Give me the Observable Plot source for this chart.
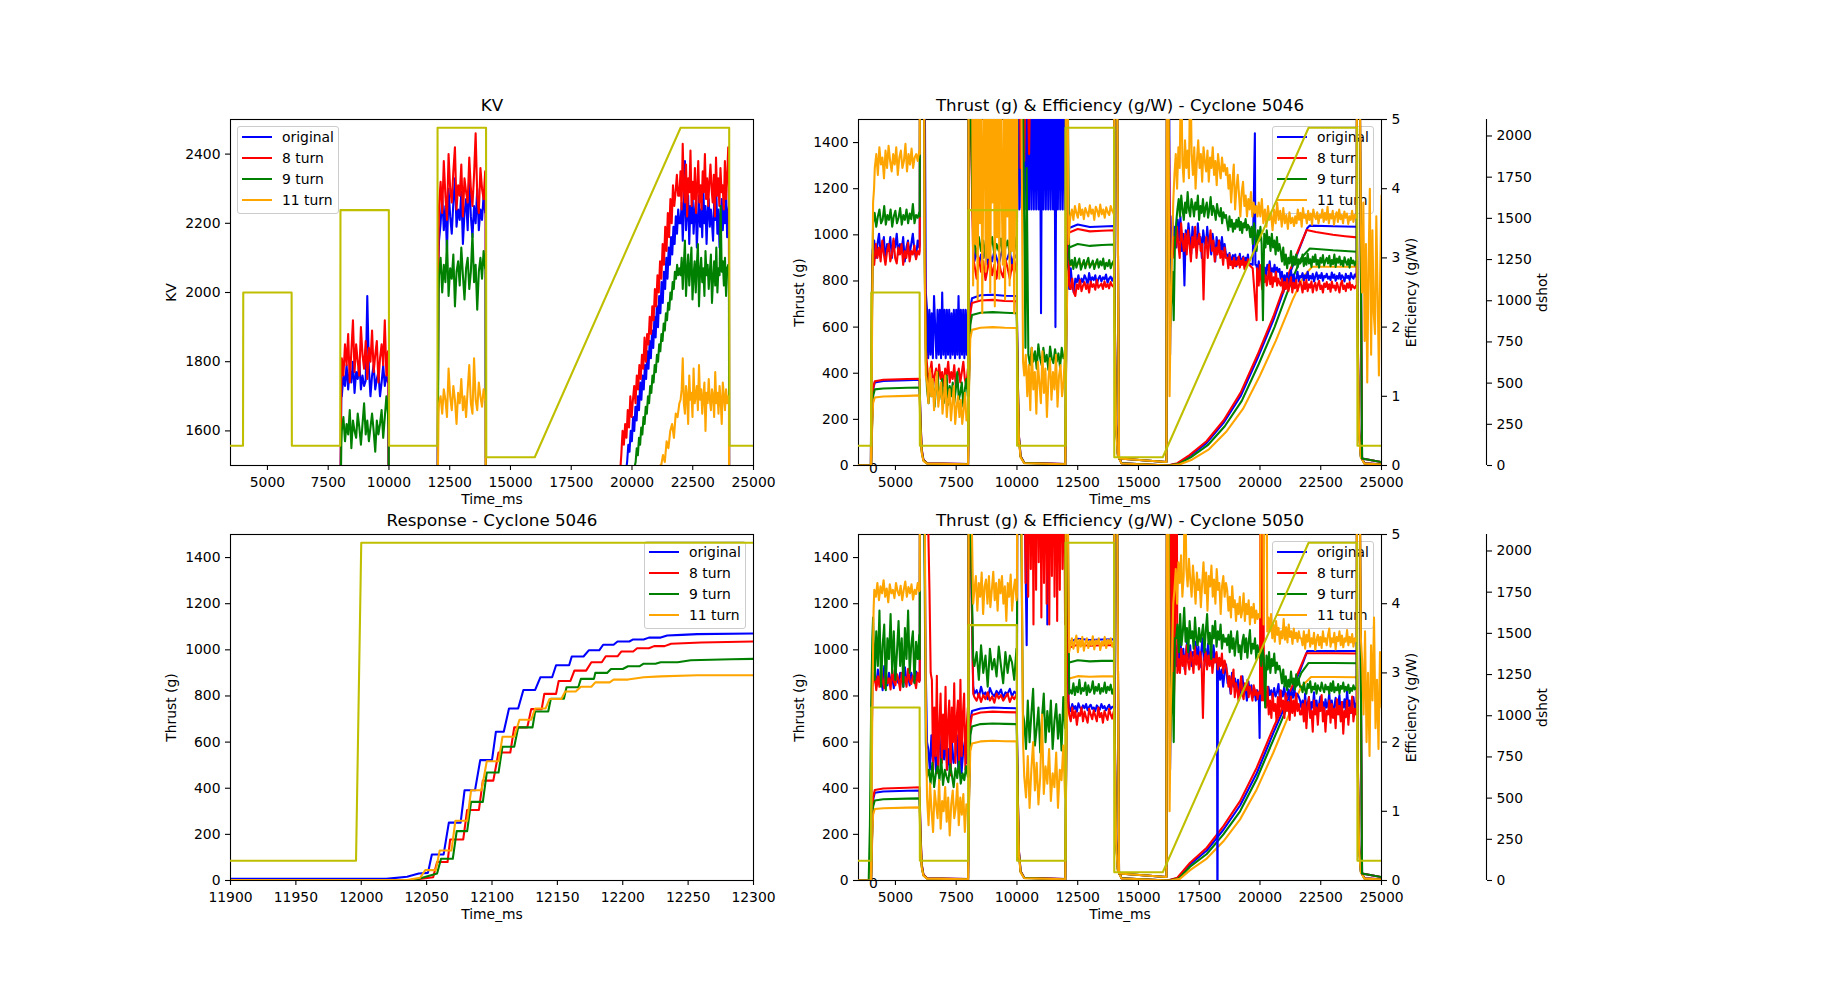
<!DOCTYPE html>
<html><head><meta charset="utf-8">
<script src="https://cdn.jsdelivr.net/npm/d3@7"></script>
<script src="https://cdn.jsdelivr.net/npm/@observablehq/plot@0.6"></script>
<style>
body{margin:0;background:#fff;}
#fig{position:relative;width:1842px;height:989px;overflow:hidden;background:#fff;font-family:"DejaVu Sans";}
</style></head><body><div id="fig"></div>
<script>
// ---------- labels / ticks ----------
const names = ["original", "8 turn", "9 turn", "11 turn"];
const colors = ["#0000ff", "#ff0000", "#008000", "#ffa500"];
const dshotColor = "#bfbf00";
const timeTicks = [5000, 7500, 10000, 12500, 15000, 17500, 20000, 22500, 25000];
const respTicks = [11900, 11950, 12000, 12050, 12100, 12150, 12200, 12250, 12300];
const kvTicks = [1600, 1800, 2000, 2200, 2400];
const thrustTicks = [0, 200, 400, 600, 800, 1000, 1200, 1400];
const effTicks = [0, 1, 2, 3, 4, 5];
const dshotTicks = [0, 250, 500, 750, 1000, 1250, 1500, 1750, 2000];

// ---------- dshot command ----------
const dshot = [[3480,120],[3995,120],[4005,1050],[5995,1050],[6005,120],[7995,120],[8005,1550],[9995,1550],[10005,120],[11996,120],[12000,2050],[13995,2050],[14005,50],[16000,50],[22000,2050],[24000,2050],[24010,120],[25000,120]];

// ---------- KV (entries: [t,v] or [t0,t1,[values...]]) ----------
const kvBlue = [[3480,0],[7990,0],[8010,1480],[8040,1700],
 [8060,9960,[1700,1760,1730,1790,1720,1780,1740,1800,1710,1770,1750,1800,1720,1760,1730,1745,1990,1780,1700,1760,1790,1720,1750,1770,1700,1740,1790,1730,1760,1740]],
 [9980,1740],[10000,0],[11990,0],[12010,1600],[12040,2100],
 [12060,13960,[2150,2200,2280,2180,2250,2120,2300,2220,2170,2260,2330,2190,2240,2210,2290,2140,2230,2270,2180,2340,2220,2160,2250,2200,2300,2180,2240,2210,2280,2230]],
 [13980,2230],[14000,0],[19750,0],[19780,1500],
 [19800,21950,[1510,1560,1540,1600,1570,1640,1600,1670,1630,1700,1660,1740,1690,1760,1720,1790,1750,1830,1780,1860,1810,1890,1840,1930,1870,1960,1900,1990,1940,2030,1970,2060,2010,2100,2040,2130,2080,2160,2110,2190,2140,2220,2170,2240,2200]],
 [22000,23960,[2200,2260,2150,2240,2380,2180,2230,2280,2140,2250,2200,2290,2170,2230,2260,2130,2210,2280,2190,2240,2160,2300,2200,2250,2140,2230,2270,2190,2240,2200,2150,2260,2210,2290,2170,2240,2130,2220,2270,2180,2250,2200,2300,2160,2230]],
 [23990,2250],[24010,0],[25000,0]];
const kvRed = [[3480,0],[7990,0],[8010,1480],[8040,1780],
 [8060,9960,[1810,1760,1850,1790,1880,1740,1830,1920,1770,1850,1800,1760,1900,1820,1780,1860,1750,1840,1800,1890,1770,1820,1860,1740,1810,1850,1790,1920,1760,1830]],
 [9980,1780],[10000,0],[11990,0],[12010,1600],[12040,2150],
 [12060,13960,[2250,2320,2230,2380,2280,2210,2400,2300,2260,2350,2420,2240,2310,2280,2370,2220,2330,2290,2260,2390,2300,2250,2340,2460,2280,2230,2360,2300,2270,2350]],
 [13980,2300],[14000,0],[19500,0],[19530,1500],
 [19560,21900,[1530,1600,1560,1620,1580,1660,1610,1700,1640,1690,1730,1680,1760,1720,1790,1750,1820,1780,1870,1800,1880,1850,1930,1880,1960,1920,2010,1960,2050,2000,2090,2040,2140,2080,2190,2120,2230,2160,2270,2200,2310,2250,2290,2340,2280]],
 [21950,23960,[2280,2350,2240,2430,2300,2260,2370,2220,2330,2290,2410,2250,2320,2270,2360,2230,2300,2380,2260,2310,2240,2350,2290,2400,2270,2330,2250,2320,2370,2300,2260,2340,2220,2390,2280,2330,2250,2360,2290,2310,2240,2380,2270,2330,2420]],
 [23990,2380],[24010,0],[25000,0]];
const kvGreen = [[3480,0],[7990,0],[8010,1400],[8040,1560],
 [8060,9960,[1600,1640,1570,1620,1590,1660,1550,1630,1600,1580,1650,1610,1560,1620,1680,1590,1630,1570,1610,1650,1600,1540,1630,1590,1620,1660,1580,1640,1700,1650]],
 [9990,1600],[10010,0],[11990,0],[12010,1500],[12040,2000],
 [12060,13960,[2050,2100,2000,2080,2030,2150,1990,2070,2040,2110,1960,2060,2090,2020,2130,2050,1980,2070,2100,2010,2060,2170,2030,2080,1950,2060,2100,2040,2120,2070]],
 [13980,2070],[14000,0],[20100,0],[20120,1500],
 [20150,21950,[1510,1550,1530,1580,1560,1610,1590,1640,1620,1670,1650,1700,1680,1730,1710,1760,1740,1790,1770,1820,1800,1850,1830,1880,1860,1910,1890,1940,1920,1970,1950,2000,1980,2030,2010,2060,2040,2080,2050,2070]],
 [22000,23960,[2050,2100,2010,2080,2150,1990,2060,2110,2020,2070,2130,1980,2050,2090,2000,2080,2140,1960,2060,2100,2030,2070,1990,2120,2050,2080,2010,2060,2110,1970,2040,2090,2020,2130,2000,2070,2050,2250,2060,2090,2020,2100,1990,2070,2080]],
 [23990,2080],[24010,0],[25000,0]];
const kvOrange = [[3480,0],[11990,0],[12010,1450],[12040,1650],
 [12060,13960,[1680,1700,1650,1720,1690,1640,1780,1700,1660,1730,1690,1620,1710,1680,1750,1660,1700,1640,1720,1790,1680,1650,1810,1690,1660,1740,1700,1670,1720,1690]],
 [13980,1690],[14000,0],[21120,0],[21150,1500],
 [21200,21950,[1500,1530,1510,1570,1550,1600,1620,1580,1650,1640,1680]],
 [22000,23960,[1690,1720,1810,1680,1650,1730,1700,1620,1760,1690,1710,1640,1780,1680,1700,1730,1660,1790,1690,1720,1650,1700,1740,1600,1710,1680,1750,1690,1660,1720,1700,1640,1770,1680,1710,1650,1730,1690,1620,1740,1700,1660,1720,1680,1700]],
 [23990,1700],[24010,0],[25000,0]];

// ---------- Response (Cyclone 5046 step at 12000 ms) ----------
const respBlue = [[11900,7],[12019,7],[12035,16],[12044,30],[12051,33],[12054,113],[12063,113],[12067,251],[12076,251],[12079,391],[12087,391],[12091,522],[12100,522],[12103,645],[12109,645],[12113,746],[12120,746],[12124,826],[12133,826],[12137,881],[12146,881],[12149,933],[12159,933],[12161,971],[12170,971],[12174,998],[12182,998],[12185,1022],[12193,1022],[12196,1036],[12205,1036],[12208,1045],[12216,1045],[12220,1053],[12229,1053],[12234,1062],[12245,1065],[12257,1068],[12300,1071]];
const respRed = [[11900,2],[12037,2],[12046,8],[12055,14],[12058,80],[12066,80],[12068,178],[12078,178],[12081,306],[12090,306],[12093,433],[12101,433],[12105,555],[12114,555],[12117,664],[12127,664],[12130,743],[12138,743],[12140,809],[12149,809],[12151,865],[12160,865],[12163,910],[12172,910],[12176,946],[12184,946],[12187,972],[12196,972],[12199,993],[12208,993],[12211,1007],[12220,1007],[12224,1016],[12232,1016],[12237,1026],[12260,1032],[12300,1036]];
const respGreen = [[11900,2],[12040,2],[12046,11],[12058,30],[12061,94],[12070,94],[12073,214],[12081,214],[12084,341],[12093,341],[12096,468],[12105,468],[12108,580],[12117,580],[12120,664],[12131,664],[12133,733],[12143,733],[12145,788],[12155,788],[12157,838],[12166,838],[12168,874],[12178,874],[12179,900],[12188,900],[12191,917],[12200,917],[12204,929],[12213,929],[12216,940],[12225,940],[12229,946],[12242,946],[12252,955],[12283,959],[12300,961]];
const respOrange = [[11900,2],[12035,2],[12045,12],[12049,45],[12057,45],[12060,130],[12069,130],[12072,259],[12081,259],[12084,391],[12092,391],[12096,517],[12105,517],[12108,623],[12117,623],[12121,697],[12130,697],[12133,746],[12141,746],[12144,787],[12153,787],[12156,819],[12164,819],[12168,840],[12176,840],[12179,859],[12190,859],[12193,871],[12204,871],[12216,881],[12229,885],[12257,890],[12300,890]];

// ---------- Thrust (g) Cyclone 5046 ----------
const c46ThrBlue = [[3480,0],[4000,2],[4040,200],[4080,330],[4150,360],[4500,366],[5500,370],[5990,372],[6030,200],[6080,70],[6150,25],[6300,10],[7990,6],[8030,400],[8080,680],[8150,725],[8500,738],[9000,740],[9500,736],[9990,735],[10030,400],[10080,130],[10150,40],[10300,12],[11990,6],[12030,600],[12080,980],[12150,1030],[12500,1045],[13000,1034],[13500,1036],[13990,1038],[14030,600],[14080,180],[14150,50],[14300,10],[16200,0],[16600,8],[17100,40],[17800,97],[18500,185],[19200,300],[19900,465],[20550,630],[21240,835],[21600,935],[21950,1030],[22050,1040],[23000,1037],[23990,1035],[24030,500],[24080,150],[24150,40],[24300,10],[25000,5]];
const c46ThrRed = [[3480,0],[4000,2],[4040,200],[4080,335],[4150,365],[4500,372],[5500,375],[5990,376],[6030,200],[6080,70],[6150,25],[6300,10],[7990,6],[8030,400],[8080,660],[8150,705],[8500,715],[9000,718],[9500,713],[9990,712],[10030,400],[10080,130],[10150,40],[10300,12],[11990,6],[12030,600],[12080,960],[12150,1010],[12500,1025],[13000,1015],[13500,1018],[13990,1020],[14030,600],[14080,180],[14150,50],[14300,10],[16200,0],[16600,10],[17100,45],[17800,105],[18500,195],[19200,315],[19900,480],[20550,646],[21240,848],[21600,940],[21920,1021],[22300,1012],[23000,1000],[23500,994],[23990,989],[24030,500],[24080,150],[24150,40],[24300,10],[25000,5]];
const c46ThrGreen = [[3480,0],[4000,2],[4040,180],[4080,300],[4150,330],[4500,334],[5500,337],[5990,338],[6030,180],[6080,60],[6150,22],[6300,9],[7990,5],[8030,380],[8080,610],[8150,652],[8500,662],[9000,665],[9500,662],[9990,660],[10030,380],[10080,120],[10150,38],[10300,11],[11990,5],[12030,580],[12080,900],[12150,945],[12500,960],[13000,952],[13500,956],[13990,958],[14030,560],[14080,170],[14150,45],[14300,10],[16250,0],[16650,7],[17150,35],[17850,88],[18550,170],[19250,280],[19950,440],[20600,600],[21300,800],[21700,900],[22050,941],[23000,933],[23990,927],[24030,450],[24080,140],[24150,38],[24300,9],[25000,4]];
const c46ThrOrange = [[3480,0],[4000,2],[4040,160],[4080,270],[4150,295],[4500,299],[5500,302],[5990,304],[6030,160],[6080,55],[6150,20],[6300,8],[7990,5],[8030,340],[8080,550],[8150,588],[8500,597],[9000,600],[9500,597],[9990,596],[10030,340],[10080,110],[10150,35],[10300,10],[11990,5],[12030,520],[12080,830],[12150,866],[12500,876],[13000,872],[13500,874],[13990,875],[14030,520],[14080,160],[14150,42],[14300,9],[16300,0],[16700,5],[17200,25],[17900,70],[18600,145],[19300,245],[20000,390],[20650,540],[21350,720],[21800,820],[22150,862],[23000,862],[23990,862],[24030,420],[24080,130],[24150,35],[24300,8],[25000,4]];

// ---------- Efficiency (g/W) Cyclone 5046 ----------
const c46EffBlue = [[3480,0],[3990,0],[4010,1.5],[4040,2.8],
 [4060,5980,[3.1,3.25,3.0,3.2,3.35,3.05,3.15,3.3,2.95,3.2,3.1,3.3,3.0,3.25,3.15,3.35,3.05,3.2,3.1,3.3,2.95,3.15,3.25,3.05,3.2,3.35,3.1,3.0,3.25,3.15]],
 [6000,3.2],[6020,8],[6100,9],[6200,6],[6250,2.5],
 [6300,7980,[2.25,1.55,2.25,1.6,2.2,1.55,2.45,2.0,1.55,2.25,1.6,2.25,1.55,2.5,1.6,2.25,1.55,2.25,1.6,2.25,1.55,2.2,1.6,2.25,1.55,2.25,1.6,2.45,1.55,2.25,1.6,2.25,1.55,2.25,1.6,2.25]],
 [8000,2.0],[8020,9],[8100,6],[8200,3.2],
 [8250,9980,[2.95,3.1,2.9,3.05,3.0,3.15,2.9,3.05,2.95,3.1,3.0,2.9,3.05,3.15,2.95,3.0,3.1,2.9,3.05,3.0]],
 [10000,3.0],[10020,9],
 [10050,11980,[6,3.7,6,3.72,6,3.7,6,3.7,6,3.7,6,3.7,6,3.7,6,3.7,6,3.7,6,2.2,6,3.7,6,3.7,6,3.7,6,3.7,6,3.7,6,2.0,6,3.7,6,3.7,6,3.7,6,3.7]],
 [12000,3.7],[12020,9],[12080,5],[12120,3.2],
 [12150,13980,[2.55,2.85,2.6,2.5,2.7,2.65,2.75,2.6,2.7,2.65,2.75,2.7,2.62,2.78,2.66,2.72,2.68,2.75,2.62,2.7,2.74,2.66,2.72,2.69,2.76,2.64,2.7,2.73,2.67,2.72]],
 [14000,2.7],[14020,9],[14100,7],[14200,0.1],[16150,0.05],[16180,9],[16250,7],[16300,1.6],[16350,3.1],[16400,3.6],
 [16450,18600,[3.3,3.45,3.15,3.55,3.25,3.6,3.1,3.35,2.6,3.4,3.2,3.5,3.3,3.05,3.45,3.25,3.35,3.1,3.5,3.2,3.3,3.0,3.4,3.25,3.15,3.45,3.2,3.3,3.05,3.35,3.2,2.95,3.3,3.15,3.25,3.05,3.3,3.1,3.2,3.05]],
 [18650,19550,[3.05,2.95,3.07,2.9,3.0,3.04,2.92,3.05,2.88,3.0,2.95,3.06,2.9,2.98,3.02,2.9,3.0,2.94,3.05,2.92]],
 [19700,2.9],[19790,4.8],[19810,2.9],
 [19850,20800,[2.9,2.8,2.95,2.75,2.88,2.92,2.78,2.86,2.74,2.9,2.82,2.95,2.76,2.85,2.8,2.9,2.75,2.86,2.8,2.84]],
 [20850,21650,[2.7,2.8,2.62,2.75,2.66,2.78,2.6,2.72,2.82,2.65,2.76,2.62,2.7,2.8,2.66,2.74]],
 [21700,23950,[2.72,2.78,2.67,2.75,2.7,2.8,2.68,2.74,2.7,2.77,2.66,2.73,2.79,2.69,2.75,2.71,2.78,2.67,2.74,2.72,2.77,2.7,2.73,2.68,2.79,2.71,2.76,2.67,2.74,2.7,2.78,2.69,2.75,2.72,2.66,2.77,2.71,2.74,2.68,2.78,2.72,2.7,2.76,2.73]],
 [23980,2.8],[24000,9],[24100,6],[24200,0.1],[25000,0.05]];
const c46EffRed = [[3480,0],[3990,0],[4010,1.5],[4050,2.8],
 [4060,5980,[3.05,2.9,3.2,3.0,3.15,2.95,3.25,3.05,2.9,3.1,3.2,2.95,3.05,3.28,3.0,2.92,3.15,3.05,3.2,2.9,3.1,3.0,3.22,2.95,3.1,3.05,3.18,2.98,3.1,3.05]],
 [6000,3.1],[6020,9],[6150,8],[6200,4],[6250,1.7],
 [6300,7980,[1.45,1.2,1.35,1.5,1.15,1.3,1.4,1.2,1.46,1.25,1.35,1.15,1.4,1.3,1.5,1.2,1.35,1.25,1.45,1.15,1.3,1.4,1.2,1.35,1.5,1.25,1.15,1.4]],
 [8000,1.3],[8020,9],[8100,5],[8200,3.0],
 [8250,9980,[2.9,2.7,3.0,2.8,2.95,2.68,2.85,3.0,2.75,2.9,2.7,2.95,2.8,2.72,2.98,2.85,2.7,2.9,2.78,2.95]],
 [10000,2.9],[10020,9],[10150,4.3],[10200,7],[10300,4.4],[10400,6.5],[10500,4.5],[10600,7],[11980,7],
 [12000,7],[12050,5],[12120,3.1],
 [12150,13980,[2.6,2.55,2.7,2.5,2.45,2.62,2.55,2.68,2.52,2.6,2.65,2.55,2.62,2.5,2.66,2.58,2.62,2.54,2.68,2.57,2.6,2.63,2.55,2.66,2.58,2.62,2.56,2.65,2.6,2.58]],
 [14000,2.6],[14020,9],[14100,7],[14200,0.1],[16150,0.05],[16180,9],[16250,5],[16300,3.0],
 [16350,18600,[3.1,3.0,3.3,3.15,3.45,3.2,3.0,3.5,3.25,3.1,3.35,3.05,3.4,3.2,2.95,3.3,3.15,3.45,3.0,3.25,3.35,3.1,3.2,2.4,3.15,3.3,3.0,3.2,3.4,3.1,3.25,2.95,3.15,3.05,3.25,3.0,3.1,2.9,3.15,3.0]],
 [18650,19550,[3.0,2.85,3.05,2.9,2.95,2.85,3.0,2.88,2.95,2.9,3.02,2.86,2.96,2.9,3.0,2.84,2.94,2.88,2.98,2.9]],
 [19700,2.85],[19860,2.1],[19880,2.85],
 [19900,20800,[2.8,2.6,2.9,2.7,2.55,2.85,2.65,2.75,2.6,2.7,2.9,2.62,2.78,2.58,2.72,2.66,2.8,2.6,2.7,2.64]],
 [20850,21650,[2.6,2.7,2.5,2.65,2.55,2.7,2.52,2.62,2.72,2.5,2.64,2.56,2.68,2.52,2.6,2.66]],
 [21700,23950,[2.6,2.5,2.65,2.55,2.68,2.52,2.62,2.57,2.66,2.5,2.6,2.64,2.53,2.61,2.67,2.55,2.6,2.5,2.63,2.58,2.65,2.55,2.62,2.51,2.66,2.57,2.6,2.53,2.64,2.58,2.5,2.62,2.67,2.55,2.6,2.52,2.63,2.57,2.65,2.54,2.61,2.58,2.56,2.6]],
 [23980,2.6],[24000,9],[24100,6],[24200,0.1],[25000,0.05]];
const c46EffGreen = [[3480,0],[3990,0],[4010,1.2],[4060,3.0],
 [4080,5980,[3.5,3.65,3.45,3.6,3.7,3.5,3.55,3.75,3.48,3.62,3.55,3.7,3.45,3.6,3.68,3.5,3.58,3.72,3.48,3.62,3.55,3.7,3.5,3.64,3.56,3.78,3.5,3.62,3.58,3.66]],
 [6000,3.6],[6020,9],[6150,9],[6200,3],[6250,1.5],
 [6300,7980,[1.1,0.9,1.3,1.0,1.2,0.85,1.15,1.35,0.95,1.1,1.25,0.9,1.05,1.3,0.88,1.15,1.0,1.2,0.9,1.1,1.35,0.95,1.05,1.2,0.85,1.1,1.25,1.0]],
 [8000,1.0],[8020,9],[8100,5],[8200,3.4],
 [8250,9980,[3.2,3.05,3.3,3.1,3.25,3.0,3.2,3.15,3.3,3.05,3.2,3.1,3.28,3.0,3.15,3.25,3.05,3.2,3.1,3.3]],
 [10000,3.2],[10020,9],[10150,6],[10250,5.2],[10350,1.7],
 [10400,11980,[4.3,1.6,1.45,1.7,1.5,1.65,1.4,1.75,1.55,1.45,1.7,1.5,1.6,1.38,1.72,1.55,1.48,1.68,1.5,1.62,1.42,1.7,1.55,1.6]],
 [12000,1.5],[12020,9],[12100,5],[12150,3.0],
 [12200,13980,[2.9,2.97,2.84,3.0,2.86,2.93,2.99,2.83,2.9,2.97,2.85,2.94,3.0,2.86,2.91,2.96,2.84,2.92,2.98,2.86,2.95,2.89,2.99,2.84,2.93,2.88,2.97,2.85,2.92,2.96]],
 [14000,2.9],[14020,9],[14100,7],[14200,0.1],[16150,0.05],[16180,9],[16250,4],[16300,2.0],[16400,2.8],[16450,2.1],[16500,3.2],
 [16550,18600,[3.5,3.7,3.85,3.6,3.9,3.7,3.55,3.8,3.65,3.95,3.7,3.6,3.85,3.75,3.6,3.8,3.7,3.9,3.55,3.75,3.65,3.85,3.6,3.72,3.8,3.58,3.7,3.88,3.62,3.75,3.68,3.55,3.78,3.65,3.6,3.72,3.5,3.66,3.58,3.62]],
 [18650,19550,[3.5,3.4,3.6,3.45,3.55,3.38,3.5,3.42,3.55,3.45,3.58,3.4,3.52,3.36,3.5,3.44,3.56,3.4,3.48,3.45]],
 [19600,20800,[3.3,3.45,3.2,3.5,3.35,3.1,3.4,3.25,3.45,3.2,2.1,3.35,3.15,3.4,3.2,3.3,3.1,3.35,3.15,3.25,3.05,3.3,3.1,3.2]],
 [20850,21650,[3.1,2.95,3.15,2.9,3.05,2.85,3.0,2.92,3.1,2.88,3.02,2.9,3.05,2.86,2.98,2.92]],
 [21700,23950,[2.95,3.05,2.88,3.0,2.9,3.06,2.92,2.98,2.87,3.02,2.94,3.05,2.9,2.97,2.86,3.0,2.93,3.04,2.89,2.96,3.0,2.92,3.03,2.88,2.97,2.91,3.05,2.87,2.99,2.93,3.02,2.9,2.96,2.88,3.01,2.94,2.9,2.98,2.86,3.0,2.92,2.96,2.89,2.95]],
 [23980,2.95],[24000,9],[24100,6],[24200,0.1],[25000,0.05]];
const c46EffOrange = [[3480,0],[3990,0],[4010,0.5],[4040,2.0],[4080,3.8],[4120,4.0],
 [4150,5980,[4.3,4.5,4.2,4.6,4.35,4.45,4.15,4.55,4.3,4.62,4.4,4.25,4.5,4.35,4.6,4.2,4.45,4.55,4.3,4.4,4.65,4.25,4.5,4.35,4.58,4.3,4.45,4.5,4.4,4.55]],
 [6000,4.5],[6020,9],[6150,9],[6200,3],[6250,1.3],
 [6300,7980,[1.2,0.9,1.4,1.0,1.25,0.8,1.1,1.35,0.85,1.05,1.2,0.75,1.0,1.3,0.7,0.95,1.1,0.65,0.9,1.15,0.6,0.85,1.0,0.7,0.95,0.6,0.8,1.05,0.65,0.75]],
 [8000,0.8],[8020,9],[8100,7],
 [8150,9980,[6,2.6,6,3.2,5,2.4,6,3.5,6,2.2,4.5,6,2.8,6,3.0,6,2.5,5.5,3.8,6,2.3,6,3.3,6,2.7,6,4.0,2.9,6,2.4,6,3.6,6,2.6,6,3.1,6,2.2,5,6]],
 [10000,3],[10020,9],[10150,7],[10250,1.5],
 [10300,11980,[1.3,1.6,1.0,1.45,0.8,1.7,1.1,1.35,0.75,1.5,1.2,0.9,1.65,1.05,1.4,0.7,1.25,1.55,0.95,1.35,1.1,1.6,0.85,1.3,1.45,1.0,1.2,1.7]],
 [12000,1.2],[12020,9],[12080,6],[12120,3.2],[12170,3.5],
 [12200,13980,[3.6,3.7,3.55,3.75,3.65,3.58,3.78,3.62,3.7,3.56,3.72,3.66,3.6,3.76,3.64,3.7,3.55,3.74,3.68,3.6,3.77,3.63,3.7,3.58,3.73,3.66,3.62,3.75,3.68,3.64]],
 [14000,3.6],[14020,9],[14100,7],[14200,0.1],[16150,0.05],[16180,9],[16230,6],[16280,1.0],[16330,2.3],[16380,3.0],[16430,3.8],
 [16480,18600,[4.2,4.5,4.0,4.6,4.3,6,4.4,4.1,4.7,4.3,4.55,4.15,6,4.5,4.2,4.6,4.0,4.4,4.7,4.3,4.5,4.1,4.6,4.4,4.25,4.55,4.1,4.45,4.3,4.6,4.2,4.4,4.05,4.5,4.3,4.15,4.45,4.25,4.35,4.2]],
 [18650,19900,[4.3,4.0,4.2,3.8,4.1,4.35,3.7,4.0,4.2,3.9,3.6,3.95,4.1,3.75,3.9,3.6,3.85,3.7,3.95,3.6,3.8,3.65,3.75,3.6]],
 [19950,21400,[3.8,3.6,3.85,3.5,3.7,3.45,3.75,3.55,3.65,3.4,3.7,3.5,3.8,3.55,3.68,3.45,3.72,3.5,3.62,3.42,3.66,3.5,3.58,3.46]],
 [21450,23950,[3.6,3.5,3.7,3.55,3.65,3.45,3.72,3.58,3.62,3.5,3.68,3.55,3.64,3.48,3.7,3.6,3.56,3.66,3.5,3.62,3.58,3.7,3.52,3.65,3.55,3.74,3.5,3.63,3.57,3.68,3.48,3.6,3.66,3.52,3.7,3.56,3.62,3.5,3.67,3.58,3.64,3.49,3.6,3.55,3.68,3.52,3.62,3.58]],
 [23980,3.6],[24000,9],[24100,6],[24150,3.5],
 [24200,25000,[2.5,3.8,1.8,3.2,1.2,2.9,4.0,1.6,3.4,2.2,1.9,3.6,2.5,1.3,2.8,3.9]]];

// ---------- Thrust (g) Cyclone 5050 ----------
const c50ThrBlue = [[3480,0],[4000,2],[4040,210],[4080,350],[4150,380],[4500,386],[5500,389],[5990,390],[6030,210],[6080,70],[6150,25],[6300,10],[7990,6],[8030,400],[8080,690],[8150,735],[8500,746],[9000,750],[9500,748],[9990,747],[10030,400],[10080,130],[10150,40],[10300,12],[11990,6],[12030,600],[12080,990],[12150,1035],[12500,1048],[13000,1043],[13500,1045],[13990,1046],[14030,600],[14080,180],[14150,50],[14300,10],[16200,0],[16600,10],[17124,70],[17810,130],[18495,220],[19180,325],[19865,465],[20550,640],[21236,805],[21650,910],[21950,995],[23000,995],[23990,995],[24030,480],[24080,150],[24150,40],[24300,10],[25000,5]];
const c50ThrRed = [[3480,0],[4000,2],[4040,220],[4080,360],[4150,392],[4500,399],[5500,402],[5990,404],[6030,220],[6080,72],[6150,26],[6300,10],[7990,6],[8030,400],[8080,675],[8150,718],[8500,728],[9000,732],[9500,730],[9990,729],[10030,400],[10080,130],[10150,40],[10300,12],[11990,6],[12030,600],[12080,965],[12150,1010],[12500,1022],[13000,1018],[13500,1020],[13990,1021],[14030,600],[14080,180],[14150,50],[14300,10],[16200,0],[16600,12],[17124,77],[17810,142],[18495,236],[19180,344],[19865,489],[20550,662],[21236,821],[21650,922],[21900,985],[23000,985],[23990,984],[24030,480],[24080,150],[24150,40],[24300,10],[25000,5]];
const c50ThrGreen = [[3480,0],[4000,2],[4040,190],[4080,320],[4150,347],[4500,352],[5500,355],[5990,356],[6030,190],[6080,62],[6150,23],[6300,9],[7990,5],[8030,380],[8080,630],[8150,668],[8500,678],[9000,681],[9500,679],[9990,678],[10030,380],[10080,120],[10150,38],[10300,11],[11990,5],[12030,570],[12080,900],[12150,945],[12500,955],[13000,950],[13500,952],[13990,953],[14030,550],[14080,170],[14150,45],[14300,10],[16250,0],[16650,9],[17124,60],[17810,115],[18495,200],[19180,300],[19865,440],[20550,610],[21236,780],[21700,900],[22000,943],[23000,943],[23990,942],[24030,450],[24080,140],[24150,38],[24300,9],[25000,4]];
const c50ThrOrange = [[3480,0],[4000,2],[4040,170],[4080,285],[4150,310],[4500,313],[5500,316],[5990,317],[6030,170],[6080,57],[6150,21],[6300,8],[7990,5],[8030,340],[8080,560],[8150,594],[8500,603],[9000,606],[9500,604],[9990,603],[10030,340],[10080,110],[10150,35],[10300,10],[11990,5],[12030,530],[12080,840],[12150,876],[12500,886],[13000,883],[13500,885],[13990,885],[14030,520],[14080,160],[14150,42],[14300,9],[16300,0],[16700,7],[17124,45],[17810,95],[18495,170],[19180,265],[19865,395],[20550,555],[21236,730],[21700,840],[22100,882],[23000,882],[23990,881],[24030,420],[24080,130],[24150,35],[24300,8],[25000,4]];

// ---------- Efficiency (g/W) Cyclone 5050 ----------
const c50EffBlue = [[3480,0],[3990,0],[4010,1.5],[4050,2.8],
 [4080,5980,[2.9,3.0,2.8,3.05,2.85,2.95,2.75,3.1,2.9,2.82,3.0,2.88,2.95,2.78,3.05,2.9,2.85,3.0,2.92,2.8,3.08,2.88,2.95,2.82,3.0,2.9,2.86,3.02,2.93,2.88]],
 [6000,2.9],[6020,9],[6150,7],[6250,3],[6300,2.0],
 [6350,7980,[1.9,1.6,2.1,1.7,2.0,1.55,1.85,2.14,1.65,1.95,1.75,2.05,1.6,1.9,1.52,2.0,1.7,1.8,2.1,1.6,1.95,1.55,1.85,2.0,1.7,1.9]],
 [8000,1.8],[8020,9],[8100,5],[8200,2.8],
 [8250,9980,[2.7,2.75,2.65,2.8,2.68,2.72,2.62,2.78,2.7,2.66,2.74,2.69,2.76,2.64,2.72,2.7,2.77,2.66,2.73,2.7]],
 [10000,2.7],[10020,9],[10300,6],[10400,3.4],[10450,6],[10500,7],[11230,7],[11250,3.7],[11270,7],[11980,7],
 [12000,7],[12050,5],[12120,2.6],
 [12150,13980,[2.5,2.45,2.55,2.48,2.52,2.44,2.56,2.5,2.47,2.53,2.49,2.55,2.46,2.51,2.54,2.48,2.5,2.45,2.53,2.5,2.47,2.55,2.49,2.52,2.46,2.5,2.54,2.48,2.51,2.5]],
 [14000,2.5],[14020,9],[14100,7],[14200,0.1],[16150,0.05],[16180,9],[16250,5],[16300,1.6],[16350,3.0],[16400,3.4],
 [16450,18200,[3.3,3.5,3.1,3.4,3.2,3.45,3.15,3.35,3.05,3.3,3.5,3.2,3.4,3.1,3.3,3.25,3.45,3.15,3.38,3.08,3.3,3.5,3.18,3.35,3.1,3.42,3.22,3.3,3.12,3.4,3.2,3.28]],
 [18230,3.2],[18250,-1],[18270,3.2],
 [18300,19950,[3.1,2.9,3.05,2.8,3.0,3.12,2.85,2.95,2.7,3.0,2.8,2.92,2.75,2.9,2.65,2.85,2.95,2.7,2.8,2.6,2.88,2.72,2.82,2.65,2.78,2.6,2.75,2.68]],
 [19985,2.06],[20000,2.7],
 [20050,21650,[2.8,2.65,2.85,2.7,2.6,2.8,2.68,2.75,2.62,2.78,2.66,2.72,2.84,2.6,2.74,2.66,2.8,2.62,2.7,2.76,2.6,2.72,2.64,2.78,2.62,2.7,2.66,2.6]],
 [21700,23950,[2.5,2.6,2.4,2.7,2.45,2.55,2.65,2.38,2.58,2.5,2.72,2.45,2.6,2.4,2.55,2.66,2.48,2.58,2.42,2.62,2.5,2.55,2.7,2.44,2.6,2.36,2.52,2.64,2.46,2.56,2.68,2.4,2.58,2.5,2.62,2.45,2.74,2.52,2.6,2.42,2.55,2.65,2.48,2.56]],
 [23980,2.5],[24000,9],[24100,6],[24200,0.1],[25000,0.05]];
const c50EffRed = [[3480,0],[3990,0],[4010,1.5],[4050,2.8],
 [4080,5980,[2.85,3.0,2.75,2.95,2.8,3.08,2.9,2.78,3.02,2.85,2.92,2.76,3.05,2.88,2.82,2.98,2.9,2.75,3.0,2.86,2.94,2.8,3.06,2.88,2.84,2.96,2.9,2.78,3.0,2.87]],
 [6000,2.9],[6020,9],[6200,8],[6300,6],[6400,4.2],[6450,3],
 [6500,7980,[2.9,1.6,2.5,1.8,2.96,1.55,2.2,2.7,1.7,2.4,1.9,2.8,1.6,2.3,2.6,1.52,2.5,2.0,2.85,1.7,2.35,2.6,1.65,2.9,1.8,2.4,2.7,1.6,2.2,2.5]],
 [8000,2.0],[8020,9],[8100,5],[8200,2.7],
 [8250,9980,[2.65,2.6,2.7,2.58,2.68,2.62,2.72,2.6,2.66,2.57,2.7,2.63,2.68,2.6,2.65,2.7,2.58,2.66,2.62,2.69]],
 [10000,2.65],[10020,9],[10200,7],
 [10300,11980,[7,4.3,7,4.1,7,4.5,7,3.7,7,4.2,7,4.6,7,3.8,7,4.3,7,4.0,7,3.7,7,4.4,7,4.1,7,3.75,7,4.2,7,4.5,7,3.7]],
 [12000,7],[12050,5],[12120,2.5],
 [12150,13980,[2.4,2.3,2.5,2.35,2.45,2.25,2.42,2.38,2.5,2.3,2.44,2.36,2.28,2.48,2.4,2.33,2.46,2.38,2.3,2.5,2.36,2.42,2.28,2.45,2.38,2.32,2.48,2.4,2.34,2.44]],
 [14000,2.4],[14020,9],[14100,7],[14200,0.1],[16150,0.05],[16180,9],[16300,8],[16350,3],[16400,9],[16450,2.5],[16500,3.2],[16550,9],[16600,3.0],
 [16650,18600,[3.2,3.0,3.35,3.1,3.25,2.98,3.4,3.15,3.05,3.3,3.2,3.0,3.38,3.12,3.25,3.05,3.3,3.15,2.35,3.2,3.3,3.05,3.25,3.1,3.35,3.0,3.2,3.15,3.3,3.05,3.22,3.1,3.28,3.0,3.18,3.1]],
 [18650,19950,[3.0,2.8,2.95,2.7,2.9,3.05,2.65,2.85,2.75,2.6,2.8,2.95,2.7,2.62,2.85,2.75,2.9,2.65,2.8,2.7,2.6,2.82,2.68,2.75,2.62,2.72]],
 [20000,2.7],[20040,9],[20080,2.6],[20120,9],[20160,2.6],
 [20200,21650,[2.7,2.5,2.8,2.4,2.6,2.35,2.7,2.45,2.55,2.3,2.65,2.4,2.75,2.5,2.6,2.35,2.7,2.45,2.58,2.32,2.66,2.42,2.6,2.38,2.7,2.45,2.55,2.4]],
 [21700,23950,[2.4,2.55,2.3,2.6,2.2,2.5,2.65,2.35,2.45,2.15,2.6,2.4,2.5,2.25,2.55,2.45,2.68,2.3,2.5,2.15,2.45,2.4,2.6,2.28,2.55,2.35,2.48,2.2,2.62,2.4,2.52,2.3,2.58,2.12,2.45,2.36,2.6,2.25,2.5,2.42,2.66,2.3,2.48,2.4]],
 [23980,2.5],[24000,9],[24100,6],[24200,0.1],[25000,0.05]];
const c50EffGreen = [[3480,0],[3900,0],[3950,0.8],[4000,2.5],[4050,3.5],
 [4080,5980,[3.8,2.9,3.6,3.1,3.9,2.8,3.4,3.7,2.75,3.5,3.2,3.85,3.0,3.6,2.9,3.3,3.75,3.1,3.5,2.8,3.65,3.2,3.9,3.0,3.4,3.6,2.85,3.45,3.2,3.55]],
 [6000,3.2],[6020,9],[6150,7],[6250,2],
 [6300,7980,[1.5,1.6,1.4,1.7,1.35,1.55,1.65,1.45,1.75,1.38,1.6,1.5,1.42,1.68,1.52,1.35,1.62,1.48,1.72,1.4,1.55,1.45,1.65,1.5]],
 [8000,1.5],[8020,9],[8100,5],[8200,3.2],
 [8250,9980,[3.1,3.3,2.9,3.4,3.0,3.25,2.8,3.35,3.05,3.2,2.95,3.38,3.1,2.85,3.3,3.0,3.25,3.15,2.9,3.35]],
 [10000,3.1],[10020,9],[10150,6],[10250,2.4],
 [10300,11980,[2.3,1.9,2.6,2.0,2.4,2.77,1.95,2.2,2.5,1.85,2.35,2.7,2.0,2.45,2.15,2.6,1.9,2.3,2.55,2.05,2.4,1.88,2.65,2.2]],
 [12000,2.2],[12020,9],[12100,5],[12150,2.7],
 [12200,13980,[2.75,2.7,2.85,2.68,2.8,2.72,2.9,2.7,2.78,2.74,2.86,2.68,2.82,2.72,2.76,2.88,2.7,2.8,2.74,2.84,2.7,2.78,2.73,2.86,2.71,2.8,2.75,2.83,2.7,2.77]],
 [14000,2.75],[14020,9],[14100,7],[14200,0.1],[16150,0.05],[16180,9],[16250,5],[16300,2.0],[16400,3.0],[16450,2.0],[16500,3.5],
 [16550,18600,[3.5,3.7,3.3,3.85,3.4,3.6,3.94,3.45,3.65,3.3,3.75,3.5,3.6,3.35,3.8,3.5,3.4,3.65,3.45,3.55,3.7,3.3,3.6,3.85,3.42,3.58,3.2,3.68,3.5,3.75,3.38,3.6,3.48,3.7,3.35,3.55,3.45,3.5]],
 [18650,19950,[3.4,3.55,3.3,3.6,3.35,3.5,3.25,3.45,3.6,3.3,3.4,3.2,3.45,3.55,3.3,3.5,3.22,3.45,3.62,3.28,3.42,3.35,3.5,3.2,3.4,3.3]],
 [20000,20800,[3.3,3.1,3.35,3.2,2.5,3.25,3.05,3.3,3.0,3.2,3.1,3.28,3.0,3.15,3.05,3.1]],
 [20850,21650,[3.0,2.85,3.05,2.8,2.95,2.75,2.9,2.8,3.02,2.84,2.92,2.76,2.98,2.82,2.9,2.8]],
 [21700,23950,[2.8,2.72,2.86,2.75,2.7,2.84,2.78,2.88,2.72,2.8,2.76,2.85,2.7,2.82,2.77,2.74,2.86,2.78,2.72,2.83,2.76,2.8,2.7,2.85,2.74,2.88,2.72,2.79,2.75,2.84,2.7,2.81,2.77,2.86,2.73,2.8,2.75,2.83,2.71,2.78,2.74,2.82,2.76,2.79]],
 [23980,2.8],[24000,9],[24100,6],[24200,0.1],[25000,0.05]];
const c50EffOrange = [[3480,0],[3990,0],[4010,0.8],[4050,2.5],[4100,3.9],
 [4130,5980,[4.2,4.1,4.3,4.05,4.25,4.15,4.34,4.1,4.22,4.02,4.28,4.15,4.2,4.08,4.3,4.18,4.12,4.26,4.05,4.2,4.32,4.1,4.24,4.15,4.28,4.06,4.2,4.14,4.3,4.18]],
 [6000,4.2],[6020,9],[6150,9],[6250,2.5],
 [6300,7980,[1.2,0.8,1.4,1.0,0.7,1.3,1.1,0.9,1.45,0.75,1.15,1.0,1.35,0.85,1.2,0.65,1.1,1.3,0.9,1.05,1.4,0.8,1.2,0.95,1.25,0.7,1.1,1.0]],
 [8000,1.0],[8020,9],[8100,6],[8200,4.0],
 [8250,9980,[4.2,4.4,3.9,4.3,4.1,4.45,3.85,4.25,4.35,4.0,4.4,3.95,4.2,4.46,4.05,4.3,3.9,4.35,4.15,4.4,4.0,4.25,3.75,4.3,4.1,4.42,3.9,4.2,4.35,4.05]],
 [10000,4.1],[10020,9],[10150,7],[10250,2.0],
 [10300,11980,[1.5,1.2,1.8,1.05,1.6,2.0,1.3,1.7,1.1,1.5,2.4,1.25,1.65,1.4,1.9,1.15,1.55,1.35,1.85,1.05,1.6,1.45,1.95,1.2]],
 [12000,1.5],[12020,9],[12100,5],[12150,3.3],
 [12200,13980,[3.4,3.5,3.35,3.45,3.54,3.3,3.48,3.38,3.52,3.32,3.44,3.5,3.36,3.46,3.4,3.53,3.34,3.47,3.42,3.5,3.33,3.45,3.4,3.52,3.36,3.48,3.42,3.5,3.38,3.44]],
 [14000,3.4],[14020,9],[14100,7],[14200,0.1],[16150,0.05],[16180,9],[16230,6],[16280,1.0],[16330,2.5],[16380,3.2],[16430,4.0],
 [16480,18600,[4.2,4.5,4.0,4.6,4.3,4.7,4.1,4.4,6,4.5,4.25,4.65,4.35,4.1,4.55,4.3,4.0,4.45,4.2,4.35,3.95,4.3,4.6,4.15,4.45,3.9,4.4,4.25,4.55,4.1,4.35,4.0,4.5,4.2,4.3,3.85,4.25,4.4,4.1,4.3]],
 [18650,19950,[4.2,3.9,4.1,3.8,4.25,3.95,4.05,3.75,4.0,3.85,4.1,3.8,3.9,4.15,3.75,4.0,3.85,4.05,3.7,3.95,3.8,4.0,3.72,3.9,3.78,3.85]],
 [20000,3.8],[20100,9],[20150,3.7],[20250,9],[20300,3.6],
 [20350,21650,[3.8,3.6,3.85,3.5,3.7,3.45,3.75,3.55,3.65,3.42,3.6,3.5,3.78,3.48,3.66,3.44,3.7,3.52,3.6,3.42,3.64,3.5,3.58,3.45,3.6,3.5]],
 [21700,23950,[3.5,3.4,3.6,3.35,3.55,3.45,3.62,3.38,3.5,3.42,3.58,3.33,3.48,3.55,3.4,3.52,3.36,3.6,3.45,3.5,3.4,3.55,3.64,3.38,3.5,3.44,3.58,3.34,3.52,3.46,3.6,3.4,3.54,3.37,3.5,3.45,3.62,3.4,3.52,3.44,3.56,3.38,3.5,3.46]],
 [23980,3.5],[24000,9],[24100,6],[24150,3.5],
 [24200,25000,[3.2,2.4,3.6,2.0,3.0,1.8,3.4,2.6,3.8,2.2,2.9,1.9,3.3,2.5]]];

// ---------- drawing ----------
const fig = document.getElementById("fig");
const W = 523, H = 346;
const M = {l: 80, r: 20, t: 40, b: 50};
const STYLE = "background:transparent;font-family:'DejaVu Sans';font-size:13.9px;color:#000;overflow:visible;";
const LW = 2.08;
const FULL = [3480, 25000];

function expand(spec) {
  const out = [];
  for (const e of spec) {
    if (e.length === 3 && Array.isArray(e[2])) {
      const [t0, t1, vals] = e, n = vals.length;
      vals.forEach((v, i) => out.push([n === 1 ? t0 : t0 + (t1 - t0) * i / (n - 1), v]));
    } else out.push(e);
  }
  return out;
}
function lineMarks(list) {
  return list.map(([spec, color]) => Plot.line(expand(spec), {x: d => d[0], y: d => d[1], stroke: color, strokeWidth: LW, clip: true}));
}
function put(el, left, top) {
  el.style.position = "absolute"; el.style.left = left + "px"; el.style.top = top + "px";
  fig.appendChild(el);
}
function panelPlot(xDomain, yDomain, marks, hideX, hideY) {
  return Plot.plot({
    width: W + M.l + M.r, height: H + M.t + M.b,
    marginLeft: M.l, marginRight: M.r, marginTop: M.t, marginBottom: M.b,
    style: STYLE,
    x: hideX ? {domain: xDomain, axis: null} : {domain: xDomain},
    y: hideY ? {domain: yDomain, axis: null} : {domain: yDomain},
    marks
  });
}
const label = (s, o) => Plot.text([s], {text: d => d, textAnchor: "middle", lineAnchor: "middle", ...o});
function host(L, T, xDomain, yDomain, xTicks, yTicks, title, ylabel, series, extra = []) {
  const marks = [
    ...extra,
    ...lineMarks(series),
    Plot.frame({stroke: "#000", strokeWidth: 1.1}),
    Plot.axisX({ticks: xTicks, tickFormat: d => String(d), tickSize: 5, tickPadding: 6.5, strokeWidth: 1.1, label: null}),
    Plot.axisY({ticks: yTicks, tickFormat: d => String(d), tickSize: 5, tickPadding: 5, strokeWidth: 1.1, label: null}),
    label(title, {frameAnchor: "top", dy: -14, fontSize: 16.7}),
    label("Time_ms", {frameAnchor: "bottom", dy: 34.5}),
    label(ylabel, {frameAnchor: "left", dx: -58.5, rotate: -90})
  ];
  put(panelPlot(xDomain, yDomain, marks, false, false), L - M.l, T - M.t);
}
function legend(left, top) {
  const d = document.createElement("div");
  d.style.cssText = `position:absolute;left:${left}px;top:${top}px;width:102px;height:88px;box-sizing:border-box;border:1px solid #cccccc;border-radius:3px;background:rgba(255,255,255,0.8);`;
  let html = "";
  names.forEach((n, i) => {
    const cy = 9.7 + i * 21.1;
    html += `<div style="position:absolute;left:4px;top:${cy - 1}px;width:30px;height:2.1px;background:${colors[i]}"></div>`;
    html += `<div style="position:absolute;left:44px;top:${cy - 9}px;height:18px;line-height:18px;font-size:13.9px;font-family:'DejaVu Sans';white-space:nowrap;color:#000">${n}</div>`;
  });
  d.innerHTML = html;
  fig.appendChild(d);
}
function dshotOverlay(L, T, xDomain) {
  put(panelPlot(xDomain, [0, 2100], lineMarks([[dshot, dshotColor]]), true, true), L - M.l, T - M.t);
}
function effOverlay(L, T, series) {
  const marks = [
    ...lineMarks(series),
    Plot.axisY({anchor: "right", ticks: effTicks, tickFormat: d => String(d), tickSize: 5, tickPadding: 5, strokeWidth: 1.1, label: null}),
    label("Efficiency (g/W)", {frameAnchor: "right", dx: 30, rotate: -90})
  ];
  put(panelPlot(FULL, [0, 5], marks, true, false), L - M.l, T - M.t);
}
function dshotAxis(spineX, T) {
  const p = Plot.plot({
    width: 130, height: H + M.t + M.b, marginLeft: 10, marginRight: 119, marginTop: M.t, marginBottom: M.b,
    style: STYLE, x: {domain: [0, 1], axis: null}, y: {domain: [0, 2100]},
    marks: [
      Plot.ruleX([1], {stroke: "#000", strokeWidth: 1.1}),
      Plot.axisY({anchor: "right", ticks: dshotTicks, tickFormat: d => String(d), tickSize: 5, tickPadding: 5, strokeWidth: 1.1, label: null}),
      label("dshot", {frameAnchor: "right", dx: 55.7, rotate: -90})
    ]
  });
  put(p, spineX - 11, T - M.t);
}
const zeroMark = () => label("0", {frameAnchor: "bottom-left", dx: 15, dy: 3});

const L1 = 230, L2 = 858, T1 = 119, T2 = 534;
// Top-left: KV
host(L1, T1, FULL, [1500, 2500], timeTicks, kvTicks, "KV", "KV",
  [[kvBlue, colors[0]], [kvRed, colors[1]], [kvGreen, colors[2]], [kvOrange, colors[3]]]);
legend(237, 126);
dshotOverlay(L1, T1, FULL);

// Top-right: Cyclone 5046
host(L2, T1, FULL, [0, 1500], timeTicks, thrustTicks, "Thrust (g) & Efficiency (g/W) - Cyclone 5046", "Thrust (g)",
  [[c46ThrBlue, colors[0]], [c46ThrRed, colors[1]], [c46ThrGreen, colors[2]], [c46ThrOrange, colors[3]]], [zeroMark()]);
legend(1272, 126);
effOverlay(L2, T1, [[c46EffBlue, colors[0]], [c46EffRed, colors[1]], [c46EffGreen, colors[2]], [c46EffOrange, colors[3]]]);
dshotOverlay(L2, T1, FULL);
dshotAxis(1486, T1);

// Bottom-left: response
host(L1, T2, [11900, 12300], [0, 1500], respTicks, thrustTicks, "Response - Cyclone 5046", "Thrust (g)",
  [[respBlue, colors[0]], [respRed, colors[1]], [respGreen, colors[2]], [respOrange, colors[3]]]);
legend(644, 541);
dshotOverlay(L1, T2, [11900, 12300]);

// Bottom-right: Cyclone 5050
host(L2, T2, FULL, [0, 1500], timeTicks, thrustTicks, "Thrust (g) & Efficiency (g/W) - Cyclone 5050", "Thrust (g)",
  [[c50ThrBlue, colors[0]], [c50ThrRed, colors[1]], [c50ThrGreen, colors[2]], [c50ThrOrange, colors[3]]], [zeroMark()]);
legend(1272, 541);
effOverlay(L2, T2, [[c50EffBlue, colors[0]], [c50EffRed, colors[1]], [c50EffGreen, colors[2]], [c50EffOrange, colors[3]]]);
dshotOverlay(L2, T2, FULL);
dshotAxis(1486, T2);
</script></body></html>
